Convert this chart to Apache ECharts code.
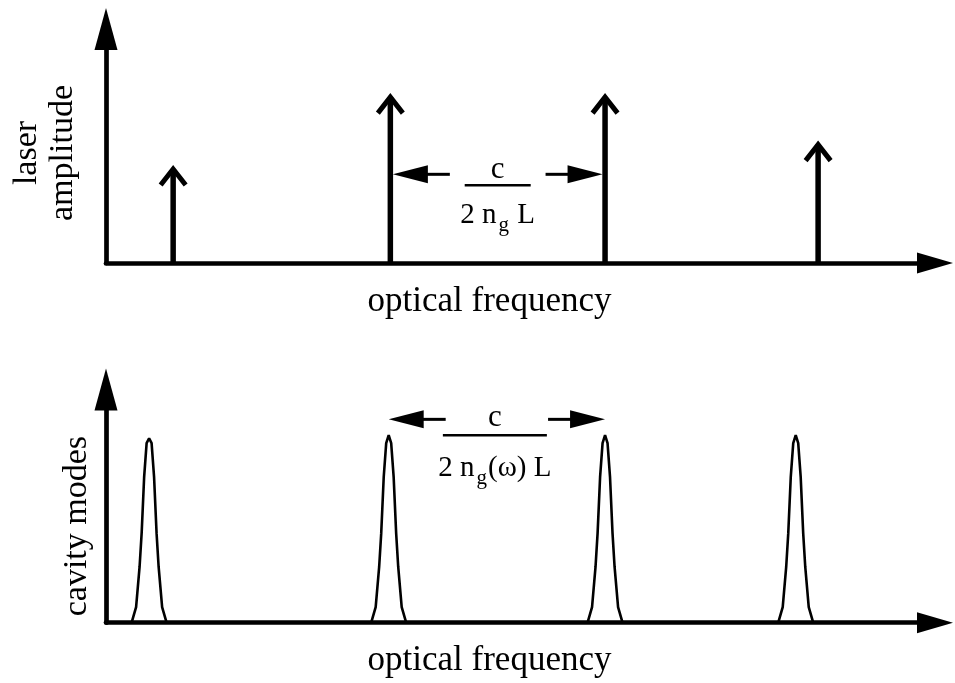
<!DOCTYPE html>
<html><head><meta charset="utf-8">
<script src="https://cdn.jsdelivr.net/npm/echarts@6/dist/echarts.min.js"></script>
<style>html,body{margin:0;padding:0;background:#fff}#c{width:955px;height:683px}</style>
</head><body><div id="c"></div>
<script>
// ---- top panel: laser modes (arrows) ----
const laserModeFreq = [8.1, 34.3, 60.2, 85.9];
const laserModeAmp = [41.9, 72.6, 72.6, 52.3];
// ---- bottom panel: cavity modes (peaks) ----
const cavityModeFreq = [5.2, 34.1, 60.2, 83.2];
const cavityModeTop = [79.1, 80.4, 80.4, 80.4];
// peak outline, from base up to the shoulder below the tip
const peakHalfWidth = [2.11, 1.57, 1.15, 0.90, 0.60, 0.30];
const peakHeight = [0, 6.7, 23.9, 38.4, 62.4, 77.0];
// mode spacing annotations: [from, to, level]
const topSpacing = [34.3, 60.2, 37.9];
const bottomSpacing = [34.1, 60.2, 87.2];
// texts
const xTitle = 'optical frequency';
const yTitleTop = 'laser\namplitude';
const yTitleBottom = 'cavity modes';
const fracNum = 'c';
const topDen = '{m|2 n}{s|g}{m| L}';
const bottomDen = '{m|2 n}{s|g}{m|(ω) L}';

const SERIF = 'Liberation Serif';
const chart = echarts.init(document.getElementById('c'));

function peakOutline(center, top) {
  const pts = [];
  for (let k = 0; k < peakHalfWidth.length; k++) pts.push([center - peakHalfWidth[k], peakHeight[k]]);
  pts.push([center, top]);
  for (let k = peakHalfWidth.length - 1; k >= 0; k--) pts.push([center + peakHalfWidth[k], peakHeight[k]]);
  return pts;
}

function xAxisCfg(grid) {
  return {
    gridIndex: grid, type: 'value', min: 0, max: 100,
    axisLine: { show: true, lineStyle: { color: '#000', width: 4.7 }, symbol: ['none', 'triangle'], symbolSize: [21, 36] },
    axisTick: { show: false }, axisLabel: { show: false }, splitLine: { show: false },
    name: xTitle, nameLocation: 'middle', nameGap: 21,
    nameTextStyle: { fontFamily: SERIF, fontSize: 35, color: '#000', padding: [0, 62, 0, 0] }
  };
}
function yAxisCfg(grid, name, gap, pad, lh) {
  return {
    gridIndex: grid, type: 'value', min: 0, max: 100,
    axisLine: { show: true, lineStyle: { color: '#000', width: 4.7 }, symbol: ['none', 'triangle'], symbolSize: [23, 42] },
    axisTick: { show: false }, axisLabel: { show: false }, splitLine: { show: false },
    name: name, nameLocation: 'middle', nameGap: gap,
    nameTextStyle: { fontFamily: SERIF, fontSize: 34, color: '#000', lineHeight: lh, padding: pad }
  };
}

function arrowRender(params, api) {
  const x = api.value(0), h = api.value(1);
  const p0 = api.coord([x, 0]);
  const p1 = api.coord([x, h]);
  const tipY = p1[1] + 4;
  return {
    type: 'group', children: [
      { type: 'line', shape: { x1: p0[0], y1: p0[1], x2: p1[0], y2: tipY }, style: { stroke: '#000', lineWidth: 5.5 } },
      { type: 'polyline', shape: { points: [[p1[0] - 12.5, tipY + 16], [p1[0], tipY], [p1[0] + 12.5, tipY + 16]] },
        style: { stroke: '#000', lineWidth: 5, fill: null, lineJoin: 'miter' } }
    ]
  };
}

function spacingRender(cfg) {
  return function (params, api) {
    const a = api.coord([api.value(0), api.value(2)]);
    const b = api.coord([api.value(1), api.value(2)]);
    const y = a[1];
    const xa = a[0] + cfg.inset, xb = b[0] - cfg.inset;
    const mid = (a[0] + b[0]) / 2 + cfg.shift;
    const L = 35, H = 9, S = 22;
    const rich = {
      m: { fontFamily: SERIF, fontSize: 29, fill: '#000' },
      s: { fontFamily: SERIF, fontSize: 21, fill: '#000', padding: [20, 1, 0, 2] }
    };
    return {
      type: 'group', children: [
        { type: 'polygon', shape: { points: [[xa, y], [xa + L, y - H], [xa + L, y + H]] }, style: { fill: '#000' } },
        { type: 'line', shape: { x1: xa + L - 1, y1: y, x2: xa + L + S, y2: y }, style: { stroke: '#000', lineWidth: 3 } },
        { type: 'polygon', shape: { points: [[xb, y], [xb - L, y - H], [xb - L, y + H]] }, style: { fill: '#000' } },
        { type: 'line', shape: { x1: xb - L - S, y1: y, x2: xb - L + 1, y2: y }, style: { stroke: '#000', lineWidth: 3 } },
        { type: 'text', x: mid, y: y + cfg.numDy, style: { text: fracNum, fontFamily: SERIF, fontSize: 31, fill: '#000', align: 'center', verticalAlign: 'middle' } },
        { type: 'line', shape: { x1: mid - cfg.barHalf, y1: y + cfg.barDy, x2: mid + cfg.barHalf, y2: y + cfg.barDy }, style: { stroke: '#000', lineWidth: 2.5 } },
        { type: 'text', x: mid, y: y + cfg.denDy, style: { text: cfg.den, rich: rich, fontFamily: SERIF, fontSize: 29, fill: '#000', align: 'center', verticalAlign: 'middle' } }
      ]
    };
  };
}

const series = [];
series.push({
  type: 'custom', xAxisIndex: 0, yAxisIndex: 0, renderItem: arrowRender,
  data: laserModeFreq.map((f, i) => [f, laserModeAmp[i]]), silent: true
});
series.push({
  type: 'custom', xAxisIndex: 0, yAxisIndex: 0, silent: true,
  renderItem: spacingRender({ inset: 2.5, shift: 0, numDy: -4, barDy: 11, barHalf: 33, denDy: 41, den: topDen }),
  data: [topSpacing]
});
cavityModeFreq.forEach((c, i) => {
  series.push({
    type: 'line', xAxisIndex: 1, yAxisIndex: 1, symbol: 'none', silent: true,
    lineStyle: { color: '#000', width: 2.6 },
    data: peakOutline(c, cavityModeTop[i])
  });
});
series.push({
  type: 'custom', xAxisIndex: 1, yAxisIndex: 1, silent: true,
  renderItem: spacingRender({ inset: 0, shift: -2, numDy: -1, barDy: 16, barHalf: 52, denDy: 49, den: bottomDen }),
  data: [bottomSpacing]
});

chart.setOption({
  animation: false,
  backgroundColor: '#fff',
  grid: [
    { left: 106, right: 20, top: 29, bottom: 420 },
    { left: 106, right: 20, top: 389.5, bottom: 60.3 }
  ],
  xAxis: [xAxisCfg(0), xAxisCfg(1)],
  yAxis: [yAxisCfg(0, yTitleTop, 25, [0, 14, 0, 0], 36), yAxisCfg(1, yTitleBottom, 12, [0, 40, 0, 0], 34)],
  series: series
});
</script>
</body></html>
